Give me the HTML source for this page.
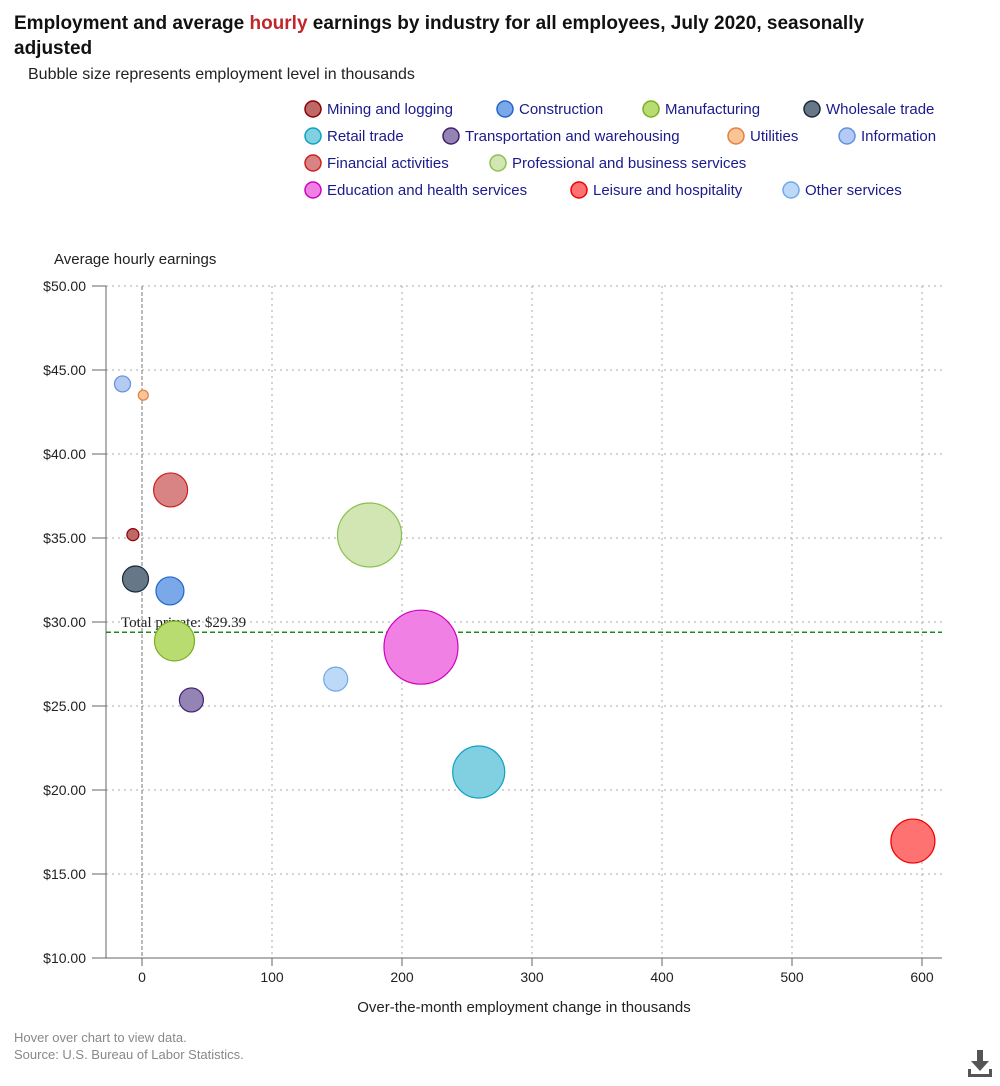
<!DOCTYPE html>
<html><head><meta charset="utf-8"><style>
body{margin:0;background:#fff;font-family:"Liberation Sans",sans-serif;}
.t{position:absolute;left:14px;top:11px;font-size:19px;font-weight:bold;color:#111;width:920px;line-height:25px}
.s{position:absolute;left:28px;top:66px;font-size:16px;color:#222}
.f{position:absolute;left:14px;font-size:13px;color:#888}
</style></head><body>
<div class="t">Employment and average <span style="color:#c0272d">hourly</span> earnings by industry for all employees, July 2020, seasonally adjusted</div>
<div class="s">Bubble size represents employment level in thousands</div>
<svg id="c" width="1000" height="1086" style="position:absolute;left:0;top:0"></svg>
<div class="f" style="top:1030px">Hover over chart to view data.</div>
<div class="f" style="top:1047px">Source: U.S. Bureau of Labor Statistics.</div>
<svg style="position:absolute;left:966px;top:1050px" width="28" height="32"><rect x="11" y="0" width="6" height="12" fill="#555"/><polygon points="5,11 23,11 14,21" fill="#555"/><rect x="2" y="24" width="24" height="3" fill="#555"/><rect x="2" y="19" width="3" height="8" fill="#555"/><rect x="23" y="19" width="3" height="8" fill="#555"/></svg>
<script>
const industries=["Mining and logging","Construction","Manufacturing","Wholesale trade","Retail trade","Transportation and warehousing","Utilities","Information","Financial activities","Professional and business services","Education and health services","Leisure and hospitality","Other services"];
const changes=[-7,21.5,25,-5,259,38,1,-15,22,175,214.6,593,149];
const earnings=[35.2,31.85,28.87,32.56,21.07,25.36,43.5,44.17,37.86,35.18,28.5,16.96,26.6];
const levels=[600,3265,6660,2815,11260,2400,416,1066,4815,17060,22800,8060,2400];
const xTicks=[0,100,200,300,400,500,600];
const yTicks=[10,15,20,25,30,35,40,45,50];
const totalPrivate=29.39;
const fills=["#c06868","#7aa8e8","#b8dc70","#667788","#80d0e2","#9484b4","#f8c498","#b4caf2","#d88484","#d2e6b4","#f080e4","#ff7272","#bcdaf8"];
const strokes=["#8b0000","#2266cc","#78b020","#1a2a3a","#10a0c0","#402070","#e08040","#6090e0","#cc2020","#8cc050","#d000c0","#ee0000","#70a8e8"];
const X=v=>142+v*1.3, Y=v=>958-(v-10)*16.8, R=s=>0.245*Math.sqrt(s);
const svg=document.getElementById('c');const NS="http://www.w3.org/2000/svg";
function mk(t,a,txt){const e=document.createElementNS(NS,t);for(const k in a)e.setAttribute(k,a[k]);if(txt!=null)e.textContent=txt;svg.appendChild(e);return e;}
xTicks.forEach(v=>{if(v===0)return;const l=mk('line',{x1:X(v),x2:X(v),y1:286,y2:958,stroke:'#aaa','stroke-dasharray':'2,4'});
});
yTicks.forEach(v=>{const l=mk('line',{x1:106,x2:942,y1:Y(v),y2:Y(v),stroke:'#aaa','stroke-dasharray':'2,4'});

const t=mk('text',{x:86,y:Y(v)+5,'text-anchor':'end','font-size':14,fill:'#222','font-family':'Liberation Sans'},'$'+v.toFixed(2));

const k=mk('line',{x1:92,x2:106,y1:Y(v),y2:Y(v),stroke:'#666'});});
xTicks.forEach(v=>{const t=mk('text',{x:X(v),y:982,'text-anchor':'middle','font-size':14,fill:'#222','font-family':'Liberation Sans'},v);

const k=mk('line',{x1:X(v),x2:X(v),y1:958,y2:966,stroke:'#666'});});
let a=mk('line',{x1:106,x2:106,y1:286,y2:958,stroke:'#666'});
a=mk('line',{x1:106,x2:942,y1:958,y2:958,stroke:'#666'});
a=mk('line',{x1:X(0),x2:X(0),y1:286,y2:958,stroke:'#777','stroke-dasharray':'4,2'});
a=mk('line',{x1:106,x2:942,y1:Y(totalPrivate),y2:Y(totalPrivate),stroke:'#1a8a1a','stroke-dasharray':'5,3','stroke-width':1.5});
a=mk('text',{x:121,y:Y(totalPrivate)-5,'font-size':15,fill:'#222','font-family':'Liberation Serif'},'Total private: $'+totalPrivate.toFixed(2));
a=mk('text',{x:54,y:264,'font-size':15,fill:'#222','font-family':'Liberation Sans'},'Average hourly earnings');
a=mk('text',{x:524,y:1012,'text-anchor':'middle','font-size':15,fill:'#222','font-family':'Liberation Sans'},'Over-the-month employment change in thousands');
const order=industries.map((_,i)=>i).sort((p,q)=>levels[q]-levels[p]);
order.forEach(i=>{const c=mk('circle',{cx:X(changes[i]),cy:Y(earnings[i]),r:R(levels[i]),fill:fills[i],stroke:strokes[i],'stroke-width':1.2});
});
const legPos=[[304,109],[496,109],[642,109],[803,109],[304,136],[442,136],[727,136],[838,136],[304,163],[489,163],[304,190],[570,190],[782,190]];
industries.forEach((n,i)=>{const [lx,ly]=legPos[i];
const c=mk('circle',{cx:lx+9,cy:ly,r:8,fill:fills[i],stroke:strokes[i],'stroke-width':1.5});
const t=mk('text',{x:lx+23,y:ly+5,'font-size':15,fill:'#1a1a8c','font-family':'Liberation Sans'},n);});
</script>
</body></html>
